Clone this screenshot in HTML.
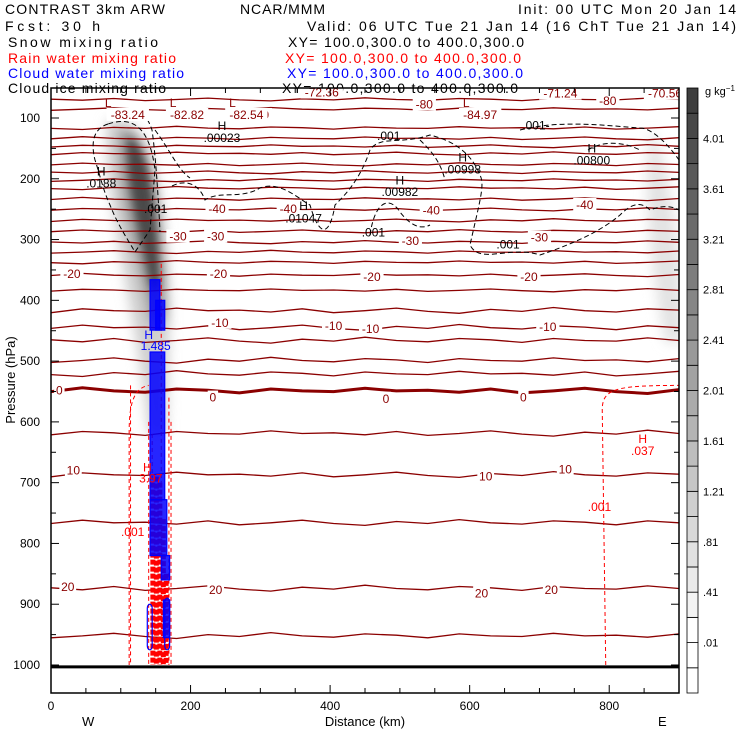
<!DOCTYPE html>
<html><head><meta charset="utf-8"><style>
html,body{margin:0;padding:0;background:#fff;}
svg{display:block;font-family:"Liberation Sans",sans-serif;}
</style></head><body>
<svg id="chart" width="740" height="740" viewBox="0 0 740 740" xmlns="http://www.w3.org/2000/svg">
<defs>
<filter id="blur6" x="-50%" y="-50%" width="200%" height="200%"><feGaussianBlur stdDeviation="6"/></filter>
<filter id="blur3" x="-50%" y="-50%" width="200%" height="200%"><feGaussianBlur stdDeviation="4"/></filter>
<clipPath id="plotclip"><rect x="51" y="88" width="628" height="605"/></clipPath>
</defs>
<g font-size="14">
<text x="5" y="14" textLength="160">CONTRAST  3km ARW</text>
<text x="240" y="14" textLength="85">NCAR/MMM</text>
<text x="518" y="14" textLength="218">Init: 00 UTC Mon 20 Jan 14</text>
<text x="5" y="31" textLength="95">Fcst:    30 h</text>
<text x="307" y="31" textLength="429">Valid: 06 UTC Tue 21 Jan 14 (16 ChT Tue 21 Jan 14)</text>
<text x="8" y="47" textLength="150">Snow mixing ratio</text>
<text x="288" y="47" textLength="236">XY= 100.0,300.0 to 400.0,300.0</text>
<text x="8" y="63" fill="#ff0000" textLength="168">Rain water mixing ratio</text>
<text x="285" y="63" fill="#ff0000" textLength="236">XY= 100.0,300.0 to 400.0,300.0</text>
<text x="8" y="78" fill="#0000ff" textLength="176">Cloud water mixing ratio</text>
<text x="287" y="78" fill="#0000ff" textLength="236">XY= 100.0,300.0 to 400.0,300.0</text>
<text x="8" y="93" textLength="158">Cloud ice mixing ratio</text>
<text x="282" y="93" textLength="236">XY= 100.0,300.0 to 400.0,300.0</text>
</g>
<g id="plot" clip-path="url(#plotclip)">
  <g id="snow"></g>
  <g id="isotherms"></g>
  <g id="ice" fill="none" stroke="#000" stroke-width="1" stroke-dasharray="5,3"></g>
  <g id="rain"></g>
  <g id="cloud"></g>
  <g id="labels" font-size="12"></g>
</g>
<rect x="51" y="88" width="628" height="605" fill="none" stroke="#000" stroke-width="1.5"/>
<g id="axes" font-size="12"></g>
<text transform="translate(15,380) rotate(-90)" text-anchor="middle" font-size="13">Pressure (hPa)</text>
<text x="365" y="726" text-anchor="middle" font-size="13">Distance (km)</text>
<text x="82" y="726" font-size="13">W</text>
<text x="658" y="726" font-size="13">E</text>
<g id="colorbar" font-size="11"></g>
<text x="705" y="95" font-size="11">g kg<tspan dy="-4" font-size="8">−1</tspan></text>
</svg>
<script>
// ---- data ----
const xTicks = [0, 200, 400, 600, 800];
const yTicks = [100, 200, 300, 400, 500, 600, 700, 800, 900, 1000];
const isothermP = [69, 85, 116, 133, 146, 158, 176, 189, 202, 215, 233, 250, 268, 286, 304, 320, 337, 358, 383, 416, 444, 465, 498, 520, 548, 618, 686, 765, 873, 951];
const zeroIsothermP = 548;
const colorbarLevels = [".01", ".41", ".81", "1.21", "1.61", "2.01", "2.41", "2.81", "3.21", "3.61", "4.01"];
// cloud water cells: [kmLeft, kmRight, pTop, pBottom]
const cloudWaterCells = [
 [142, 156, 366, 449], [150, 163, 400, 449], [142, 163, 485, 728],
 [142, 166, 728, 820], [158, 170, 820, 860], [161, 170, 893, 955]
];
const rainKm = [114, 140, 145, 169, 172];
const rainTopP = [540, 600, 620, 560, 600];
const rainCoreKm = [146, 151, 156, 161, 165];
const rainCoreTopP = [700, 690, 700, 760, 850];
const tempLabels = [
 ["-72.36",388,58],["-71.24",730,60],["-70.56",880,60],["-80",798,72],["-80",535,78],["-84.97",615,95],
 ["-80",300,95],["-82.54",280,95],["-82.82",195,95],["-83.24",110,95],
 ["-40",238,250],["-40",340,250],["-40",545,252],["-40",765,243],
 ["-30",182,295],["-30",236,295],["-30",515,302],["-30",700,297],
 ["-20",30,357],["-20",240,357],["-20",460,362],["-20",685,362],
 ["-10",242,437],["-10",405,442],["-10",458,447],["-10",712,444],
 ["0",12,548],["0",232,560],["0",480,562],["0",677,560],
 ["10",32,680],["10",623,690],["10",737,678],
 ["20",24,872],["20",236,877],["20",617,882],["20",717,877]
];
const extremaLabels = [
 ["H","",395,40],["H","",713,40],["H","",850,40],["L","",82,75],["L","",175,75],["L","",260,75],["L","",595,75]
];
// ---- scales ----
const X0=51, X1=679, Y0=88, Y1=693;
function xs(km){ return 51 + km*(628/900); }
function ys(p){ return 118 + (p-100)*(547/900); }
const NS="http://www.w3.org/2000/svg";
function mk(tag, attrs, parent){ const e=document.createElementNS(NS,tag); for(const k in attrs) e.setAttribute(k,attrs[k]); parent.appendChild(e); return e; }
const wig=[0,1.5,-1,2,0.5,-1.5,1,2.5,-0.5,1,-2,0.5,1.5,-1,0,2,-1,0.5,1,-1.5,0.5];

// axes
const axes=document.getElementById('axes');
for(let km=0; km<=900; km+=50){
  const l=mk('line',{x1:xs(km),x2:xs(km),y1:Y1,y2:Y1-(km%200===0?8:5),stroke:'#000'},axes);
  
  
  const t=mk('line',{x1:xs(km),x2:xs(km),y1:Y0,y2:Y0+(km%200===0?8:5),stroke:'#000'},axes);
  
  
}
xTicks.forEach(v=>{ const t=mk('text',{x:xs(v),y:710,'text-anchor':'middle'},axes); t.textContent=v;
  
   });
for(let p=100;p<=1000;p+=50){
  const l=mk('line',{x1:X0,x2:X0+(p%100===0?8:5),y1:ys(p),y2:ys(p),stroke:'#000'},axes);
  
  
  const r=mk('line',{x1:X1,x2:X1-(p%100===0?8:5),y1:ys(p),y2:ys(p),stroke:'#000'},axes);
  
  
}
yTicks.forEach(v=>{ const t=mk('text',{x:40,y:ys(v)+4,'text-anchor':'end'},axes); t.textContent=v;
  
   });

// snow shading
const snow=document.getElementById('snow');
mk('path',{d:`M${xs(80)} ${ys(105)} C${xs(140)} ${ys(90)} ${xs(165)} ${ys(200)} ${xs(170)} ${ys(420)} L${xs(165)} ${ys(620)} L${xs(140)} ${ys(620)} C${xs(125)} ${ys(420)} ${xs(75)} ${ys(250)} ${xs(80)} ${ys(105)}Z`,fill:'#cfcfcf',filter:'url(#blur6)'},snow);
mk('path',{d:`M${xs(100)} ${ys(120)} C${xs(140)} ${ys(110)} ${xs(158)} ${ys(250)} ${xs(162)} ${ys(430)} L${xs(145)} ${ys(440)} C${xs(128)} ${ys(330)} ${xs(95)} ${ys(230)} ${xs(100)} ${ys(120)}Z`,fill:'#8c8c8c',filter:'url(#blur6)'},snow);
mk('path',{d:`M${xs(110)} ${ys(135)} C${xs(138)} ${ys(135)} ${xs(152)} ${ys(250)} ${xs(155)} ${ys(380)} L${xs(144)} ${ys(380)} C${xs(130)} ${ys(290)} ${xs(108)} ${ys(220)} ${xs(110)} ${ys(135)}Z`,fill:'#4a4a4a',filter:'url(#blur3)'},snow);
mk('path',{d:`M${xs(860)} ${ys(120)} C${xs(880)} ${ys(150)} ${xs(905)} ${ys(300)} ${xs(905)} ${ys(470)} L${xs(880)} ${ys(470)} C${xs(860)} ${ys(350)} ${xs(845)} ${ys(200)} ${xs(860)} ${ys(120)}Z`,fill:'#e3e3e3',filter:'url(#blur6)'},snow);

// isotherms
const iso=document.getElementById('isotherms');
isothermP.forEach((p,i)=>{
  let d='';
  for(let k=0;k<=20;k++){ const km=k*45; const y=ys(p)+wig[(k+i*3)%wig.length]*(p>400?1.3:0.7);
    d+=(k?'L':'M')+xs(km).toFixed(1)+' '+y.toFixed(1); }
  const e=mk('path',{d:d,fill:'none',stroke:'#8b0000','stroke-width':p===zeroIsothermP?3:1.3},iso);
  
  
});
const surf=mk('line',{x1:X0,x2:X1,y1:ys(1003),y2:ys(1003),stroke:'#000','stroke-width':3},iso);



// cloud ice dashed contours
const ice=document.getElementById('ice');
const icePaths=[
 `M108 124 C95 128 90 140 95 160 C100 175 103 190 110 205 C118 225 125 235 135 252 L150 230 L155 170 C150 130 135 115 108 124`,
 `M120 112 C130 105 145 108 152 130 C155 150 158 190 160 232`,
 `M155 130 C170 150 178 170 190 178`,
 `M172 186 C188 178 200 186 205 200 C220 190 240 200 260 188 C280 180 300 200 310 205 C320 240 330 235 335 205 C345 195 360 180 370 150 C380 135 400 145 430 135 C450 140 470 150 480 175 C485 185 480 200 470 245 C480 265 510 245 540 255 C570 245 600 232 620 215 C630 205 640 200 650 210 C660 206 670 205 679 210`,
 `M370 235 C375 200 390 196 400 212 C410 225 420 230 430 225`,
 `M420 140 C430 150 440 160 445 180`,
 `M520 130 C560 120 600 125 640 128 C650 128 665 140 679 160`,
 `M588 150 C600 142 620 140 640 150`
];
icePaths.forEach(d=>{ const e=mk('path',{d:d},ice);
  
   });

// rain
const rain=document.getElementById('rain');
const r1=mk('path',{d:`M${xs(112)} ${ys(1000)} L${xs(112)} ${ys(620)} C${xs(112)} ${ys(580)} ${xs(115)} ${ys(545)} ${xs(140)} ${ys(540)}`,fill:'none',stroke:'#ff0000','stroke-dasharray':'4,3'},rain);


const r2=mk('path',{d:`M${xs(795)} ${ys(1000)} L${xs(790)} ${ys(580)} C${xs(790)} ${ys(545)} ${xs(810)} ${ys(540)} ${xs(900)} ${ys(540)}`,fill:'none',stroke:'#ff0000','stroke-dasharray':'4,3'},rain);


rainKm.forEach((km,i)=>{
  const e=mk('line',{x1:xs(km),x2:xs(km),y1:ys(rainTopP[i]),y2:ys(1000),stroke:'#ff0000','stroke-width':1,'stroke-dasharray':'4,3'},rain);
  
  
});
rainCoreKm.forEach((km,i)=>{
  const e=mk('line',{x1:xs(km),x2:xs(km),y1:ys(rainCoreTopP[i]),y2:ys(1000),stroke:'#ff0000','stroke-width':5,'stroke-dasharray':'5,2'},rain);
  
  
});
const r3=mk('line',{x1:xs(158),x2:xs(158),y1:ys(340),y2:ys(700),stroke:'#ff0000','stroke-dasharray':'4,3'},rain);



// cloud water
const cloud=document.getElementById('cloud');
cloudWaterCells.forEach(c=>{
  const e=mk('rect',{x:xs(c[0]),y:ys(c[2]),width:xs(c[1])-xs(c[0]),height:ys(c[3])-ys(c[2]),fill:'#0000ff','fill-opacity':0.85,stroke:'#0000ff','stroke-width':1.2},cloud);
  
  
});
[[138,145,900,975],[163,170,890,975]].forEach(c=>{
  const e=mk('rect',{x:xs(c[0]),y:ys(c[2]),width:xs(c[1])-xs(c[0]),height:ys(c[3])-ys(c[2]),rx:4,fill:'none',stroke:'#0000ff','stroke-width':1.2},cloud);
  
  
});

// labels
const lab=document.getElementById('labels');
function addLabel(txt,km,p,color,name,bg){
  const x=xs(km), y=ys(p);
  if(bg){ const w=txt.length*6.4+4; const r=mk('rect',{x:x-w/2,y:y-7,width:w,height:13,fill:'#fff'},lab);
    
     }
  const t=mk('text',{x:x,y:y+4,'text-anchor':'middle',fill:color},lab);
  t.textContent=txt;
  
  
}
tempLabels.forEach(l=>addLabel(l[0],l[1],l[2],'#8b0000','temperature-label',true));
extremaLabels.forEach(l=>addLabel(l[0],l[2],l[3],'#8b0000','temperature-extremum',false));
[["H",245,113],[".00023",245,133],["H",590,165],[".00998",590,185],["H",775,150],[".00800",775,170],
 ["H",72,188],[".0188",72,208],["H",500,203],[".00982",500,222],["H",362,245],[".01047",362,265],
 [".001",462,288],[".001",655,308],[".001",150,250],[".001",484,130],[".001-",695,112]]
 .forEach(l=>addLabel(l[0],l[1],l[2],'#000','cloud-ice-label',false));
addLabel("H",140,457,'#0000ff','cloud-water-max',false);
addLabel("1.485",150,475,'#0000ff','cloud-water-max-value',false);
addLabel("H",138,675,'#ff0000','rain-max',false);
addLabel("3.97",143,693,'#ff0000','rain-max-value',false);
addLabel(".001",117,781,'#ff0000','rain-label',false);
addLabel(".001",786,740,'#ff0000','rain-label',false);
addLabel("H",848,628,'#ff0000','rain-extremum',false);
addLabel(".037",848,648,'#ff0000','rain-extremum-value',false);

// colorbar
const cb=document.getElementById('colorbar');
const nBox=24, cbTop=88, cbBot=693, bh=(cbBot-cbTop)/nBox;
for(let i=0;i<nBox;i++){
  const y=cbBot-(i+1)*bh;
  let g;
  if(i<3) g=255; else { g=Math.round(243-(i-3)*(243-62)/20); }
  const r=mk('rect',{x:687,y:y,width:11,height:bh,fill:`rgb(${g},${g},${g})`,stroke:'#000','stroke-width':0.8},cb);
  
  
}
colorbarLevels.forEach((lv,i)=>{
  const y=cbBot-(2+2*i)*bh;
  const t=mk('text',{x:703,y:y+4},cb); t.textContent=lv;
  
  
});
</script>
</body></html>
